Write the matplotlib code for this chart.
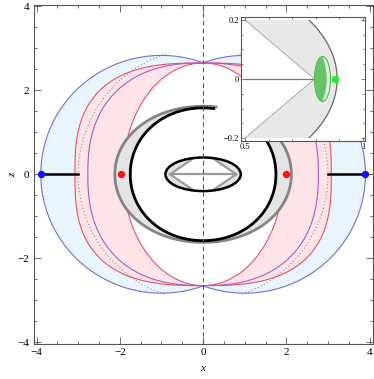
import numpy as np
import matplotlib
matplotlib.use('Agg')
import matplotlib.pyplot as plt
from matplotlib.patches import Polygon, Ellipse, Rectangle

plt.rcParams['font.family'] = ['Liberation Serif', 'DejaVu Serif']

# ---------------- data ----------------
x_ticks = [-4, -2, 0, 2, 4]
z_ticks = [-4, -2, 0, 2, 4]
cusp_z = 2.65                      # where the crescent curves meet on the z axis
blue_center = 1.0                  # blue boundary: ellipse centre offset
blue_axes = [2.9, 2.83]            # blue ellipse semi-axes (x, z)
red_outer = [3.08, 2.8]            # x-intercept, shape exponent
purple_curve = [2.77, 2.4]
red_inner = [1.92, 2.0]
dotted_radius = 3.0
dotted_angles = [107, 253]
black_big = [1.75, 1.58, 2.05]     # a, b, exponent
gray_big = [2.12, 1.62, 2.05]
big_curve_angles = [82, 398]
small_ellipse = [0.905, 0.40]
small_ellipse_inner = [0.89, 0.40]
diamond_tip = 0.794
diamond_slope = 0.68
orbit_segment = [-3.9, -3.0]
red_dots_x = [-1.98, 1.98]
blue_dots_x = [-3.9, 3.9]
# inset
inset_xticks = [0.5, 1]
inset_zticks = [-0.2, 0, 0.2]
green_center = 0.828
green_axes = [0.034, 0.076]
dark_green_right = 0.846
green_dot_x = 0.881

# ---------------- helpers ----------------
def superellipse(a, b, p, t):
    c, s = np.cos(t), np.sin(t)
    return a * np.sign(c) * np.abs(c) ** (2 / p), b * np.sign(s) * np.abs(s) ** (2 / p)

def crescent_curve(a, p, side):
    t = np.linspace(np.pi / 2, 3 * np.pi / 2, 300)
    x, z = superellipse(a, cusp_z, p, t)
    return (x if side < 0 else -x), z

def blue_curve(side):
    a, b = blue_axes
    th0 = np.arccos(blue_center / a)
    t = np.linspace(th0, 2 * np.pi - th0, 300)
    x = -blue_center + a * np.cos(t)
    z = b * np.sin(t)
    return (x if side < 0 else -x), z

fig = plt.figure(figsize=(3.74, 3.79), dpi=100)
ax = fig.add_axes([33.7 / 374, 1 - 344 / 379, (372.5 - 33.7) / 374, (344 - 5) / 379])
ax.set_xlim(-4.07, 4.07)
ax.set_ylim(-4.04, 4.03)

c_blue = '#6f6fe0'
c_red = '#e8506a'
c_purple = '#a55cc8'
f_blue = '#e9f5fd'
f_pink = '#fde5e7'

for side in (-1, 1):
    bx, bz = blue_curve(side)
    rox, roz = crescent_curve(*red_outer, side)
    rix, riz = crescent_curve(*red_inner, side)
    pux, puz = crescent_curve(*purple_curve, side)
    ax.add_patch(Polygon(np.column_stack([np.r_[bx, rox[::-1]], np.r_[bz, roz[::-1]]]),
                         closed=True, facecolor=f_blue, edgecolor='none', zorder=1))
    ax.add_patch(Polygon(np.column_stack([np.r_[rox, rix[::-1]], np.r_[roz, riz[::-1]]]),
                         closed=True, facecolor=f_pink, edgecolor='none', zorder=1))
    ang = np.radians(np.linspace(*dotted_angles, 200))
    dx = dotted_radius * np.cos(ang)
    ax.plot(dx if side < 0 else -dx, dotted_radius * np.sin(ang), color='#777777',
            lw=0.7, ls=(0, (1, 2.5)), zorder=2)
    ax.plot(bx, bz, color=c_blue, lw=0.8, zorder=3)
    ax.plot(rox, roz, color=c_red, lw=0.8, zorder=3)
    ax.plot(rix, riz, color=c_red, lw=0.8, zorder=3)
    ax.plot(pux, puz, color=c_purple, lw=0.8, zorder=3)

# big black / gray curves
t = np.radians(np.linspace(*big_curve_angles, 600))
gx, gz = superellipse(*gray_big, t)
kx, kz = superellipse(*black_big, t)
ax.add_patch(Polygon(np.column_stack([np.r_[gx, kx[::-1]], np.r_[gz, kz[::-1]]]),
                     closed=True, facecolor='#e4e4e4', edgecolor='none', zorder=4))
ax.plot(gx, gz, color='#858585', lw=2.0, zorder=5)
ax.plot(kx, kz, color='black', lw=2.0, zorder=6)

# small inner shape
ell = Ellipse((0, 0), 2 * small_ellipse_inner[0], 2 * small_ellipse_inner[1],
              facecolor='#e4e4e4', edgecolor='none', zorder=4)
ax.add_patch(ell)
dz = diamond_slope * diamond_tip
diamond = Polygon([[-diamond_tip, 0], [0, dz], [diamond_tip, 0], [0, -dz]], closed=True,
                  facecolor='white', edgecolor='#9a9a9a', lw=1.6, zorder=5)
ax.add_patch(diamond)
diamond.set_clip_path(ell)
ax.plot([-diamond_tip, diamond_tip], [0, 0], color='#9a9a9a', lw=1.6, zorder=5)
ax.add_patch(Ellipse((0, 0), 2 * small_ellipse[0], 2 * small_ellipse[1],
                     facecolor='none', edgecolor='black', lw=1.8, zorder=6))

# orbit segments and points
for side in (-1, 1):
    ax.plot([side * -orbit_segment[0], side * -orbit_segment[1]], [0, 0], color='black', lw=1.8, zorder=7)
ax.scatter(red_dots_x, [0, 0], s=28, color='#ff1010', zorder=8, linewidths=0)
ax.scatter(blue_dots_x, [0, 0], s=28, color='#1010ff', zorder=8, linewidths=0, clip_on=False)

ax.axvline(0, color='#555555', lw=0.8, ls=(0, (4, 3)), zorder=7)

ax.set_xticks(x_ticks)
ax.set_yticks(z_ticks)
ax.set_xticks(np.arange(-4, 4.01, 0.5), minor=True)
ax.set_yticks(np.arange(-4, 4.01, 0.5), minor=True)
ax.tick_params(which='both', direction='in', top=True, right=True, color='#555555',
               labelsize=8, width=0.6)
ax.tick_params(which='major', length=5, pad=3)
ax.tick_params(which='minor', length=2.5)
for s in ax.spines.values():
    s.set_color('#555555')
    s.set_linewidth(0.8)
ax.set_xlabel('x', style='italic', fontsize=8)
ax.set_ylabel('z', style='italic', fontsize=8)
ax.xaxis.set_label_coords(0.5, -0.058)
ax.yaxis.set_label_coords(-0.05, 0.5)

# ---------------- inset ----------------
ai = fig.add_axes([241 / 374, 1 - 141 / 379, 124 / 374, 124 / 379])
ai.set_facecolor('white')
ai.set_zorder(10)
ai.set_xlim(0.483, 1.008)
ai.set_ylim(-0.21, 0.21)
clip = Rectangle((0.5, -0.2), 0.6, 0.4, transform=ai.transData)
ell2 = Ellipse((0, 0), 2 * small_ellipse_inner[0], 2 * small_ellipse_inner[1],
               facecolor='#e8e8e8', edgecolor='#666666', lw=0.9)
ai.add_patch(ell2)
ell2.set_clip_path(clip)
d2 = Polygon([[-diamond_tip, 0], [0, dz], [diamond_tip, 0], [0, -dz]], closed=True,
             facecolor='white', edgecolor='#aaaaaa', lw=0.7)
ai.add_patch(d2)
d2.set_clip_path(clip)
ai.plot([0.5, diamond_tip], [0, 0], color='#777777', lw=0.9)

# green shapes
ai.add_patch(Ellipse((green_center, 0), 2 * green_axes[0], 2 * green_axes[1],
                     facecolor='#e2f5e0', edgecolor='#4cb84c', lw=0.8, zorder=3))
tl = np.linspace(np.pi / 2, 3 * np.pi / 2, 100)
lx = green_center + green_axes[0] * np.cos(tl)
lz = green_axes[1] * np.sin(tl)
zr = np.linspace(-green_axes[1], green_axes[1], 100)
k = (dark_green_right - green_center) / green_axes[1] ** 2
rx = dark_green_right - k * zr ** 2
ai.add_patch(Polygon(np.column_stack([np.r_[lx, rx], np.r_[lz, zr]]), closed=True,
                     facecolor='#66c466', edgecolor='none', zorder=4))
ai.scatter([green_dot_x], [0], s=28, color='#22ee22', zorder=5, linewidths=0)

ai.set_xticks(inset_xticks)
ai.set_xticklabels(['0.5', '1'])
ai.set_yticks(inset_zticks)
ai.set_yticklabels(['\u22120.2', '0', '0.2'])
ai.set_xticks(np.arange(0.5, 1.01, 0.1), minor=True)
ai.set_yticks(np.arange(-0.2, 0.21, 0.05), minor=True)
ai.tick_params(which='both', direction='in', top=True, right=True, color='#555555',
               labelsize=6, width=0.5, pad=1.5)
ai.tick_params(which='major', length=3)
ai.tick_params(which='minor', length=1.5)
for s in ai.spines.values():
    s.set_color('#555555')
    s.set_linewidth(0.8)

fig.savefig('out.png', dpi=100)
